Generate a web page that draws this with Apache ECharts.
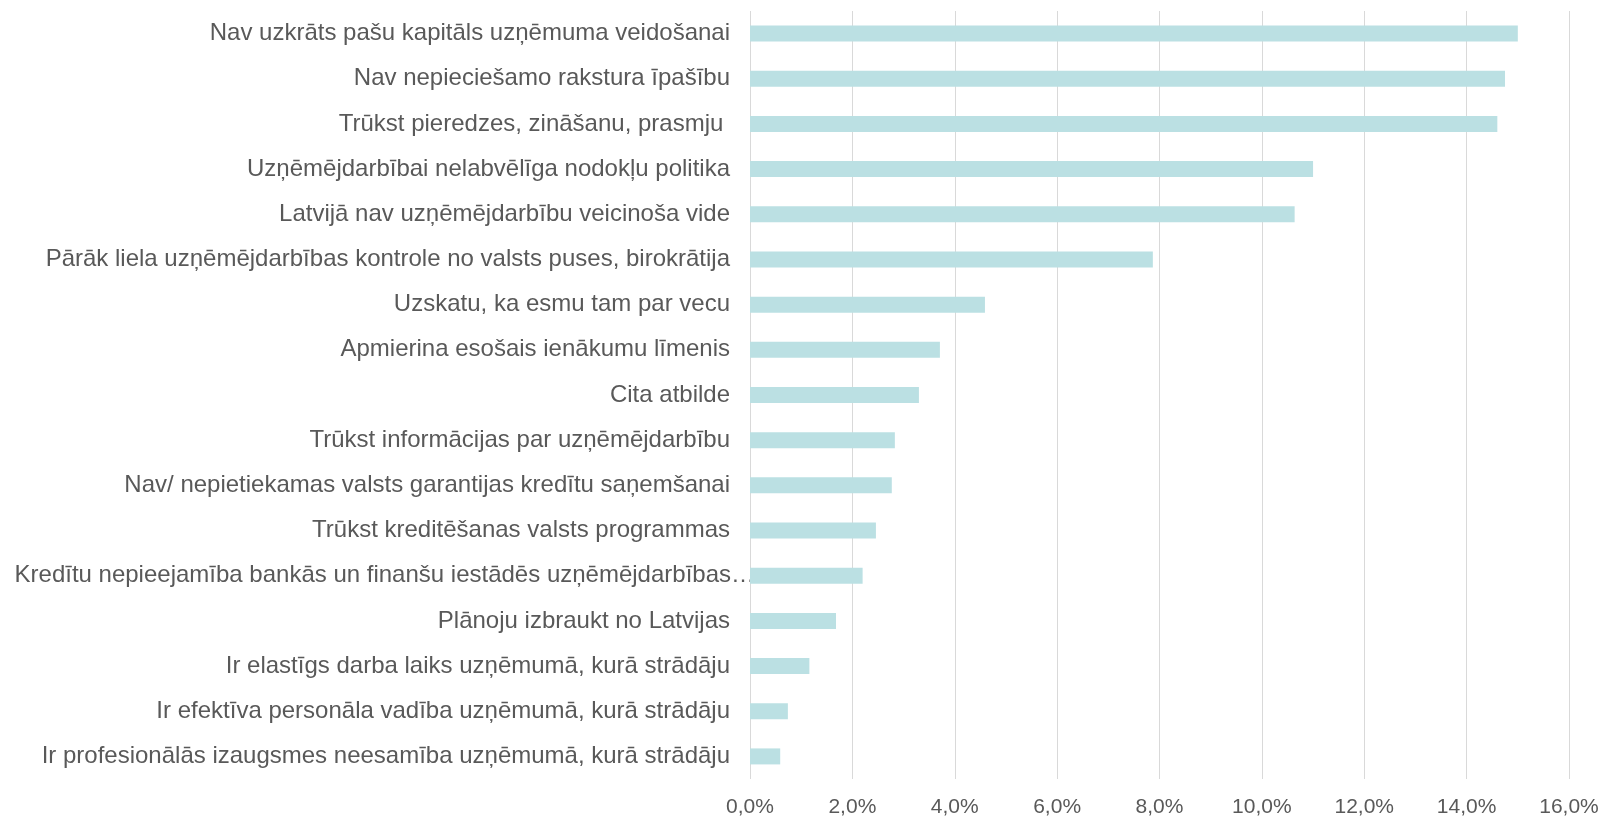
<!DOCTYPE html>
<html>
<head>
<meta charset="utf-8">
<script src="https://cdn.jsdelivr.net/npm/echarts@6/dist/echarts.min.js"></script>
<style>
  html, body { margin: 0; padding: 0; background: #fff; }
  #chart { width: 1607px; height: 822px; }
</style>
</head>
<body>
<div id="chart"></div>
<script>
// reasons (top to bottom) and their shares, %
let reasons = [
    'Nav uzkrāts pašu kapitāls uzņēmuma veidošanai',
    'Nav nepieciešamo rakstura īpašību',
    'Trūkst pieredzes, zināšanu, prasmju ',
    'Uzņēmējdarbībai nelabvēlīga nodokļu politika',
    'Latvijā nav uzņēmējdarbību veicinoša vide',
    'Pārāk liela uzņēmējdarbības kontrole no valsts puses, birokrātija',
    'Uzskatu, ka esmu tam par vecu',
    'Apmierina esošais ienākumu līmenis',
    'Cita atbilde',
    'Trūkst informācijas par uzņēmējdarbību',
    'Nav/ nepietiekamas valsts garantijas kredītu saņemšanai',
    'Trūkst kreditēšanas valsts programmas',
    'Kredītu nepieejamība bankās un finanšu iestādēs uzņēmējdarbības…',
    'Plānoju izbraukt no Latvijas',
    'Ir elastīgs darba laiks uzņēmumā, kurā strādāju',
    'Ir efektīva personāla vadība uzņēmumā, kurā strādāju',
    'Ir profesionālās izaugsmes neesamība uzņēmumā, kurā strādāju'
];
let shares = [15.0, 14.75, 14.6, 11.0, 10.64, 7.87, 4.59, 3.71, 3.30, 2.83, 2.77, 2.46, 2.20, 1.68, 1.16, 0.74, 0.59];

let xTicks = {min: 0, max: 16, interval: 2};

let chart = echarts.init(document.getElementById('chart'));
let font = '"Liberation Sans", Arial, sans-serif';

// the truncated label runs a bit past the others, up to the axis
let categories = reasons.map(function(name){
    if (name.endsWith('…')) {
        return {value: name, textStyle: {padding: [0, -25, 0, 0]}};
    }
    return name;
});

let option = {
    animation: false,
    grid: {
        left: 750,
        right: 38,
        top: 11,
        bottom: 43
    },
    xAxis: {
        type: 'value',
        min: xTicks.min,
        max: xTicks.max,
        interval: xTicks.interval,
        axisLine: {show: false},
        axisTick: {show: false},
        splitLine: {lineStyle: {color: '#D9D9D9', width: 1}},
        axisLabel: {
            color: '#595959',
            fontFamily: font,
            fontSize: 21,
            margin: 18,
            formatter: function(v){
                return v.toFixed(1).replace('.', ',') + '%';
            }
        }
    },
    yAxis: {
        type: 'category',
        inverse: true,
        data: categories,
        axisLine: {show: false},
        axisTick: {show: false},
        axisLabel: {
            color: '#595959',
            fontFamily: font,
            fontSize: 24,
            margin: 20
        }
    },
    series: [{
        type: 'bar',
        data: shares,
        barWidth: 16,
        itemStyle: {color: '#BBE0E3'}
    }]
};
chart.setOption(option);
</script>
</body>
</html>
